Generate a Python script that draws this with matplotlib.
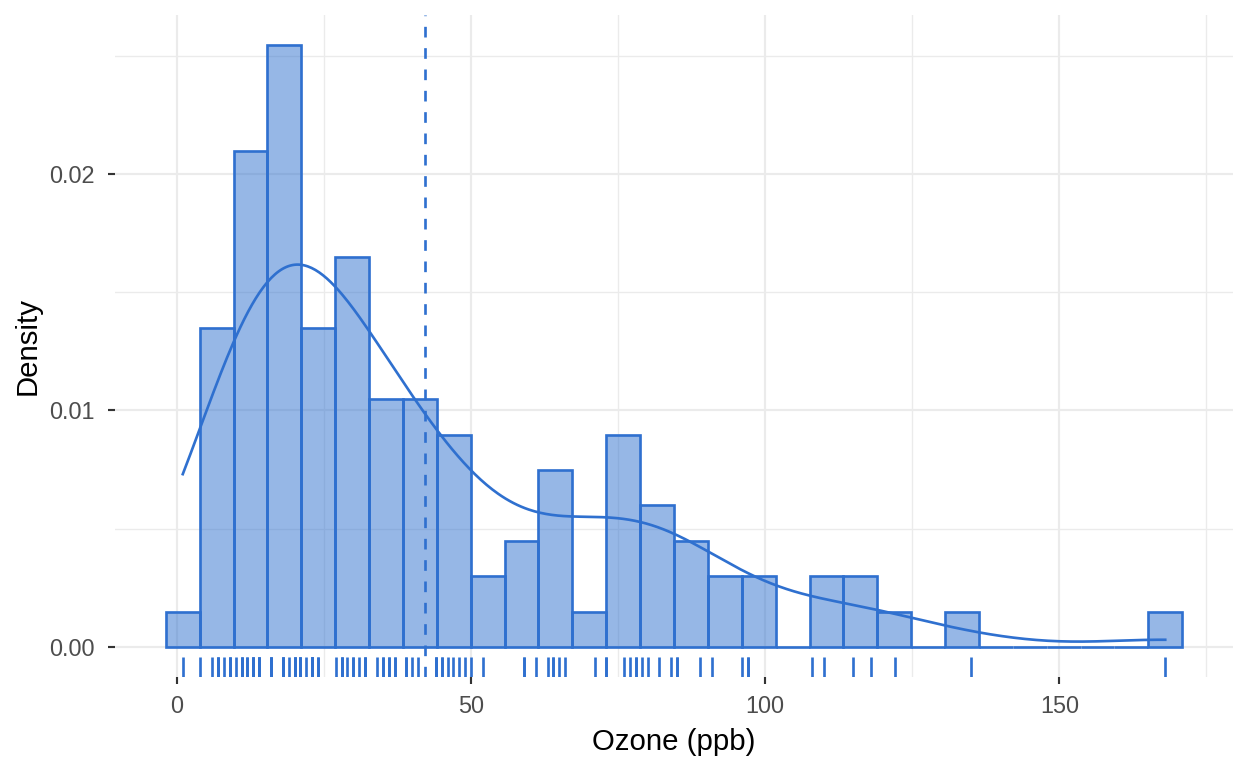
import numpy as np
import matplotlib
matplotlib.use("Agg")
import matplotlib.pyplot as plt
import matplotlib.transforms as mtransforms

# Ozone (ppb), airquality, lignes sans NA (mai -> septembre)
ozone_may = [41, 36, 12, 18, 28, 23, 19, 8, 7, 16, 11, 14, 18, 14, 34, 6, 30, 11, 1, 11,
             4, 32, 23, 45, 115, 37]
ozone_jun = [29, 71, 39, 23, 21, 37, 20, 12, 13]
ozone_jul = [135, 49, 32, 64, 40, 77, 97, 97, 85, 10, 27, 7, 48, 35, 61, 79, 63, 16, 80, 108,
             20, 52, 82, 50, 64, 59]
ozone_aug = [39, 9, 16, 78, 35, 66, 122, 89, 110, 44, 28, 65, 22, 59, 23, 31, 44, 21, 9, 45,
             168, 73, 76, 118, 84, 85]
ozone_sep = [96, 78, 73, 91, 47, 32, 20, 23, 21, 24, 44, 21, 28, 9, 13, 46, 18, 13, 24, 16,
             13, 23, 36, 7, 14, 30, 14, 18, 20]

x_ticks = [0, 50, 100, 150]
y_ticks = [0.00, 0.01, 0.02]
y_ticklabels = ["0.00", "0.01", "0.02"]

ozone = np.array(ozone_may + ozone_jun + ozone_jul + ozone_aug + ozone_sep, dtype=float)
n = len(ozone)

# bins=30 comme ggplot, centrés sur la valeur min
nbins = 30
width = (ozone.max() - ozone.min()) / (nbins - 1)
edges = ozone.min() - width / 2 + width * np.arange(nbins + 1)

# densité gaussienne, bande passante bw.nrd0
q75, q25 = np.percentile(ozone, [75, 25])
bw = 0.9 * min(ozone.std(ddof=1), (q75 - q25) / 1.34) * n ** (-0.2)
grid = np.linspace(ozone.min(), ozone.max(), 512)
dens = np.exp(-0.5 * ((grid[:, None] - ozone[None, :]) / bw) ** 2).sum(axis=1) / (n * bw * np.sqrt(2 * np.pi))

blue = "#2F70CF"
lw = 1.0
plt.rcParams['font.family'] = ['Liberation Sans', 'DejaVu Sans']

fig = plt.figure(figsize=(6.5, 4), dpi=192)
ax = fig.add_axes([115 / 1248, 1 - 677 / 768, 1118 / 1248, 662 / 768])

# grille
ax.set_axisbelow(True)
ax.set_xticks([25, 75, 125, 175], minor=True)
ax.set_yticks([0.005, 0.015, 0.025], minor=True)
ax.grid(True, which='major', color='#EBEBEB', linewidth=0.8)
ax.grid(True, which='minor', color='#EBEBEB', linewidth=0.5)

# histogramme
ax.hist(ozone, bins=edges, density=True, facecolor=blue, alpha=0.5, edgecolor='none', zorder=2)
ax.hist(ozone, bins=edges, density=True, histtype='bar', facecolor='none', edgecolor=blue,
        linewidth=lw, zorder=3)

# densité
ax.plot(grid, dens, color=blue, linewidth=lw, zorder=4)

# moyenne
ax.axvline(ozone.mean(), color=blue, linewidth=lw, linestyle=(0, (4, 4)), zorder=4)

# rug
trans = mtransforms.blended_transform_factory(ax.transData, ax.transAxes)
ax.vlines(ozone, 0, 0.03, colors=blue, linewidth=lw, transform=trans, zorder=4)

ax.set_xlim(-10.52, 179.52)
ax.set_ylim(-0.00127, 0.02672)
ax.set_xticks(x_ticks)
ax.set_yticks(y_ticks)
ax.set_yticklabels(y_ticklabels)

for s in ax.spines.values():
    s.set_visible(False)
ax.tick_params(which='major', length=2.75, width=0.8, color='#333333', labelcolor='#4D4D4D',
               labelsize=8.8)
ax.tick_params(axis='y', pad=5)
ax.tick_params(axis='x', pad=4)
ax.tick_params(which='minor', length=0)

fig.text(674 / 1248, 1 - 742 / 768, "Ozone (ppb)", ha='center', va='center', fontsize=11, color='black')
fig.text(28 / 1248, 1 - 346 / 768, "Density", ha='center', va='center', rotation=90, fontsize=11,
         color='black')

fig.savefig("out.png", dpi=192)
